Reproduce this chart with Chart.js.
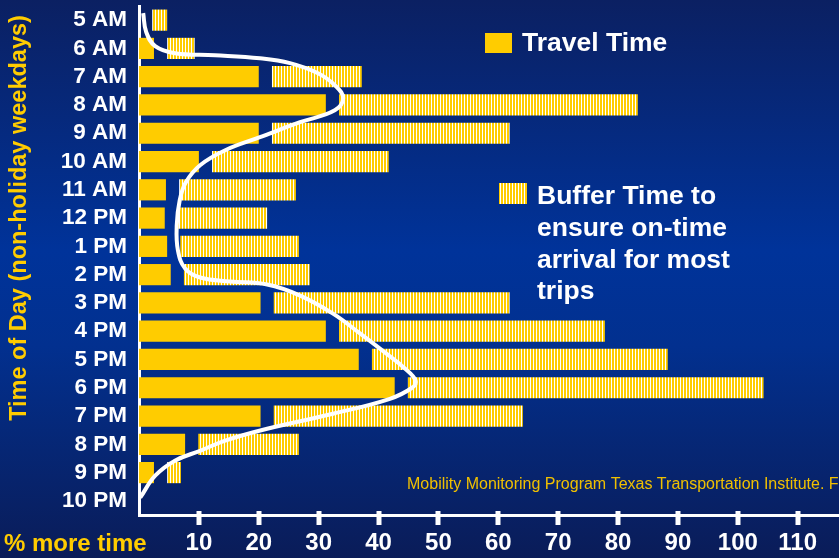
<!DOCTYPE html>
<html>
<head>
<meta charset="utf-8">
<script src="https://cdn.jsdelivr.net/npm/chart.js@4.4.1/dist/chart.umd.min.js"></script>
<style>
  html, body { margin: 0; padding: 0; }
  body {
    width: 839px; height: 558px; overflow: hidden;
    background: linear-gradient(to bottom, #0b2062 0%, #00339a 45%, #02308f 62%, #0a1c58 100%);
  }
  #wrap { position: relative; width: 839px; height: 558px; }
</style>
</head>
<body>
<div id="wrap"><canvas id="peakChart" width="839" height="558"></canvas></div>
<script>
// ─── DATA ───
const hours = ['5 AM', '6 AM', '7 AM', '8 AM', '9 AM', '10 AM', '11 AM', '12 PM', '1 PM',
               '2 PM', '3 PM', '4 PM', '5 PM', '6 PM', '7 PM', '8 PM', '9 PM', '10 PM'];
const travelTime = [0, 2.5, 20, 31.2, 20, 10, 4.5, 4.3, 4.7, 5.3, 20.3, 31.2, 36.7, 42.7, 20.3, 7.7, 2.5, 0];
const bufferTime = [2.5, 4.6, 15, 49.9, 39.7, 29.5, 19.5, 14.9, 19.8, 21, 39.4, 44.4, 49.4, 59.4, 41.6, 16.8, 2.3, null];
const xTicks = [10, 20, 30, 40, 50, 60, 70, 80, 90, 100, 110];

// white traffic-volume curve, read along the rows (row index, % more time)
const curveRow = [-0.25, 0.42, 0.92, 1.17, 1.24, 1.35, 1.52, 1.88, 2.34, 2.76, 3.19, 3.61, 4.14, 4.6, 5.13,
                  5.74, 6.37, 7.26, 8.14, 8.78, 9.1, 9.24, 9.35, 9.74, 10.38, 11.08, 11.76, 12.32, 12.75,
                  13.0, 13.39, 13.92, 14.45, 14.87, 15.23, 15.58, 16.11, 16.89];
const curvePct = [0.7, 1.2, 2.7, 6.0, 12.7, 20.2, 25.2, 29.9, 32.9, 34.1, 32.7, 26.9, 20.2, 14.4, 10.2,
                  7.8, 6.8, 6.3, 6.5, 7.7, 10.2, 15.2, 21.4, 26.9, 32.4, 36.9, 41.1, 44.4, 46.2,
                  45.6, 41.9, 32.4, 21.4, 14.4, 10.2, 6.0, 2.7, 0.2];

const GOLD = '#ffcc00';
const GAP = 2.2;   // visual gap between travel and buffer bar (% units)
const FONT = '"Liberation Sans", Arial, sans-serif';

// ─── STRIPED FILL FOR BUFFER BARS ───
const canvas = document.getElementById('peakChart');
const ctx = canvas.getContext('2d');
const stripe = document.createElement('canvas');
stripe.width = 3; stripe.height = 1;
const sctx = stripe.getContext('2d');
sctx.fillStyle = GOLD; sctx.fillRect(0, 0, 2, 1);
sctx.fillStyle = '#ffffff'; sctx.fillRect(2, 0, 1, 1);
const stripePattern = ctx.createPattern(stripe, 'repeat');

const bufferBars = bufferTime.map((b, i) => b === null ? null : [travelTime[i] + GAP, travelTime[i] + GAP + b]);
const curvePoints = curveRow.map((r, i) => ({ x: curvePct[i], y: r }));

// ─── TEXT + TICK MARKS ───
const annotations = {
    id: 'annotations',
    afterDraw(chart) {
        const c = chart.ctx;
        const xs = chart.scales.x;
        const area = chart.chartArea;
        c.save();

        // tick marks crossing the x axis
        c.fillStyle = '#ffffff';
        xTicks.forEach(v => {
            const px = Math.round(xs.getPixelForValue(v));
            c.fillRect(px - 2.5, area.bottom - 4, 5, 14);
        });

        // y axis title
        c.fillStyle = GOLD;
        c.font = 'bold 23.5px ' + FONT;
        c.textAlign = 'center';
        c.textBaseline = 'middle';
        c.translate(20, 218);
        c.rotate(-Math.PI / 2);
        c.fillText('Time of Day (non-holiday weekdays)', 0, 0);
        c.setTransform(1, 0, 0, 1, 0, 0);

        // x axis title
        c.textAlign = 'left';
        c.font = 'bold 24px ' + FONT;
        c.fillText('% more time', 4, 544);

        // legend
        c.fillStyle = GOLD;
        c.fillRect(485, 33, 27, 20);
        c.fillStyle = stripePattern;
        c.fillRect(499, 183, 28, 21);
        c.fillStyle = '#ffffff';
        c.font = 'bold 26.5px ' + FONT;
        c.fillText('Travel Time', 522, 44);
        ['Buffer Time to', 'ensure on-time', 'arrival for most', 'trips'].forEach((t, i) => {
            c.fillText(t, 537, 197 + i * 31.7);
        });

        // source note
        c.fillStyle = '#f0c000';
        c.font = '16px ' + FONT;
        c.fillText('Mobility Monitoring Program Texas Transportation Institute. From FHWA', 407, 485);
        c.restore();
    }
};

// ─── CREATE THE CHART ───
const peakChart = new Chart(ctx, {
    type: 'bar',
    data: {
        labels: hours,
        datasets: [
            {
                type: 'line',
                label: 'Traffic volume',
                data: curvePoints,
                yAxisID: 'yc',
                borderColor: '#ffffff',
                borderWidth: 4,
                pointRadius: 0,
                tension: 0.4,
                fill: false,
                clip: false,
                order: 0
            },
            {
                label: 'Travel Time',
                data: travelTime,
                yAxisID: 'y',
                backgroundColor: GOLD,
                borderWidth: 0,
                grouped: false,
                barPercentage: 0.75,
                categoryPercentage: 1,
                order: 1
            },
            {
                label: 'Buffer Time to ensure on-time arrival for most trips',
                data: bufferBars,
                yAxisID: 'y',
                backgroundColor: stripePattern,
                borderWidth: 0,
                grouped: false,
                barPercentage: 0.75,
                categoryPercentage: 1,
                order: 2
            }
        ]
    },
    options: {
        indexAxis: 'y',
        responsive: false,
        animation: false,
        layout: { padding: { top: 6, right: 0, left: 0, bottom: 0 } },
        plugins: {
            legend: { display: false },
            tooltip: { enabled: false }
        },
        scales: {
            x: {
                type: 'linear',
                min: 0,
                max: 116.9,
                grid: { display: false, drawTicks: false },
                border: { display: true, color: '#ffffff', width: 3 },
                ticks: {
                    stepSize: 10,
                    includeBounds: false,
                    padding: 14,
                    color: '#ffffff',
                    font: { family: FONT, size: 24, weight: 'bold' },
                    callback: v => (v === 0 ? '' : v)
                },
                afterFit: s => { s.height = 43; s.paddingLeft = 0; s.paddingRight = 0; }
            },
            y: {
                type: 'category',
                grid: { display: false, drawTicks: false },
                border: { display: true, color: '#ffffff', width: 3 },
                ticks: {
                    autoSkip: false,
                    padding: 12,
                    color: '#ffffff',
                    font: { family: FONT, size: 22.5, weight: 'bold' }
                },
                afterFit: s => { s.width = 139; s.paddingTop = 0; s.paddingBottom = 0; }
            },
            yc: {
                type: 'linear',
                display: false,
                offset: false,
                reverse: true,
                min: -0.5,
                max: 17.5
            }
        }
    },
    plugins: [annotations]
});
</script>
</body>
</html>
